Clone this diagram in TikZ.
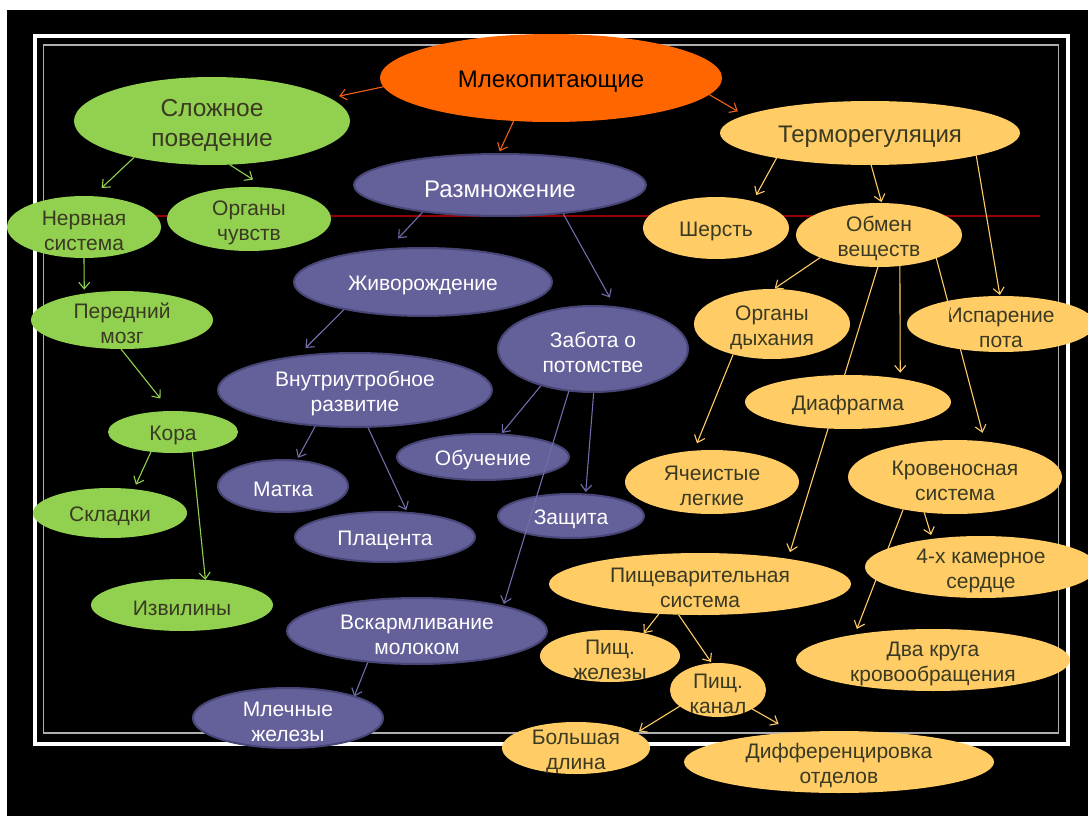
\documentclass[tikz,border=0pt]{standalone}
\usepackage{fontspec}
\setmainfont{Liberation Sans}
\usetikzlibrary{shapes.geometric,arrows.meta}
\definecolor{gfill}{RGB}{146,208,80}
\definecolor{yfill}{RGB}{255,204,102}
\definecolor{pfill}{RGB}{100,96,154}
\definecolor{pline}{RGB}{72,70,118}
\definecolor{ofill}{RGB}{255,102,0}
\definecolor{dtext}{RGB}{58,58,34}
\definecolor{parrow}{RGB}{112,110,170}
\definecolor{oarrow}{RGB}{240,96,20}
\definecolor{redl}{RGB}{150,0,0}
\definecolor{frameg}{RGB}{175,175,175}
\newcommand\tstrut{\rule{0pt}{1.08em}}
\pgfdeclarelayer{background}
\pgfdeclarelayer{edges}
\pgfsetlayers{background,edges,main}
\begin{document}
\begin{tikzpicture}[x=1pt,y=-1pt,
  el/.style 2 args={ellipse, minimum width=#1pt, minimum height=#2pt, inner xsep=-20pt, inner ysep=-12pt, outer sep=0pt, align=center, font=\fontsize{21}{25}\selectfont, execute at begin node={\rule{0pt}{1.02em}}},
  big/.style={font=\fontsize{24}{28}\selectfont},
  gn/.style={fill=gfill, text=dtext},
  yn/.style={fill=yfill, text=dtext},
  pn/.style={fill=pfill, draw=pline, line width=2pt, text=white},
  on/.style={fill=ofill, text=black},
  arr/.style={-{Straight Barb[length=6.5pt,width=11pt]}, line width=1.1pt},
  oarr/.style={arr, draw=oarrow},
  garr/.style={arr, draw=gfill},
  parr/.style={arr, draw=parrow},
  yarr/.style={arr, draw=yfill}
]
\useasboundingbox (0,0) rectangle (1088,816);
\begin{pgfonlayer}{background}
\fill[white] (0,0) rectangle (1088,816);
\fill[black] (7,10) rectangle (1088,816);
\draw[white, line width=4.5pt] (35,36) rectangle (1068,744);
\draw[frameg, line width=1.5pt] (43.5,45) rectangle (1058.5,733);
\draw[redl, line width=1.5pt] (100,216) -- (1040,216);
\end{pgfonlayer}

\node[el={342}{88}, on, big] (mlek) at (551,78) {Млекопитающие};
\node[el={276}{88}, gn, font=\fontsize{24.5}{30}\selectfont] (slozh) at (212,121) {\tstrut Сложное\\поведение};
\node[el={154}{62}, gn] (nerv) at (84,227) {\tstrut Нервная\\система};
\node[el={164}{64}, gn] (organy) at (249,219) {\tstrut Органы\\чувств};
\node[el={182}{58}, gn] (peredn) at (122,320) {\tstrut Передний\\мозг};
\node[el={130}{42}, gn] (kora) at (173,432) {Кора};
\node[el={154}{50}, gn] (skl) at (110,513) {Складки};
\node[el={182}{52}, gn] (izv) at (182,605) {Извилины};
\node[el={292}{62}, pn, big] (razm) at (500,185) {Размножение};
\node[el={258}{68}, pn] (zhivo) at (423,282) {Живорождение};
\node[el={274}{74}, pn] (vnutr) at (355,390) {\tstrut Внутриутробное\\развитие};
\node[el={130}{52}, pn] (matka) at (283,486) {Матка};
\node[el={180}{50}, pn] (plac) at (385,537) {Плацента};
\node[el={190}{86}, pn] (zabota) at (593,349) {\tstrut Забота о\\потомстве};
\node[el={172}{46}, pn] (obuch) at (483,457) {Обучение};
\node[el={146}{44}, pn] (zasch) at (571,516) {Защита};
\node[el={260}{66}, pn] (vskarm) at (417,631) {\tstrut Вскармливание\\молоком};
\node[el={190}{60}, pn] (mlech) at (288,718) {\tstrut Млечные\\железы};
\node[el={300}{64}, yn, big] (termo) at (870,133) {Терморегуляция};
\node[el={146}{62}, yn] (sherst) at (716,228) {Шерсть};
\node[el={166}{64}, yn] (obmen) at (879,235) {\tstrut Обмен\\веществ};
\node[el={156}{70}, yn] (dyh) at (772,324) {\tstrut Органы\\дыхания};
\node[el={188}{56}, yn] (ispar) at (1001,324) {\tstrut Испарение\\пота};
\node[el={206}{54}, yn] (diafr) at (848,402) {Диафрагма};
\node[el={174}{64}, yn] (yach) at (712,482) {\tstrut Ячеистые\\легкие};
\node[el={214}{74}, yn] (krov) at (955,477) {\tstrut Кровеносная\\система};
\node[el={302}{62}, yn] (pisch) at (700,584) {\tstrut Пищеварительная\\система};
\node[el={232}{62}, yn] (chet) at (981,567) {\tstrut 4-х камерное\\сердце};
\node[el={274}{62}, yn] (dvakr) at (933,660) {\tstrut Два круга\\кровообращения};
\node[el={140}{52}, yn] (pzhel) at (610,656) {\tstrut Пищ.\\железы};
\node[el={96}{54}, yn] (pkanal) at (718,690) {\tstrut Пищ.\\канал};
\node[el={148}{52}, yn] (bolsh) at (576,748) {\tstrut Большая\\длина};
\node[el={310}{62}, yn] (diff) at (839,762) {\tstrut Дифференцировка\\отделов};

\begin{pgfonlayer}{edges}
\draw[oarr, shorten >=9.5pt] (mlek.183) -- (slozh.11);
\draw[oarr, shorten >=3pt] (mlek.229) -- (razm.93);
\draw[oarr, shorten >=8pt] (mlek.354) -- (termo.172);
\draw[garr, shorten >=12pt] (slozh.205) -- (nerv.74);
\draw[garr, shorten >=15pt] (slozh.292) -- (organy.62);
\draw[garr, shorten >=4pt] (nerv.270) -- (peredn.145);
\draw[garr, shorten >=16pt] (peredn.268) -- (kora.97);
\draw[garr, shorten >=5pt] (kora.222) -- (skl.45);
\draw[garr] (kora.314) -- (izv.47);
\draw[parr, shorten >=15pt] (razm.199) -- (zhivo.137);
\draw[parr, shorten >=11pt] (razm.336) -- (zabota.62);
\draw[parr, shorten >=12pt] (zhivo.199) -- (vnutr.150);
\draw[parr, shorten >=3pt] (vnutr.222) -- (matka.62);
\draw[parr, shorten >=3pt] (vnutr.289) -- (plac.47);
\draw[parr, shorten >=2pt] (zabota.215) -- (obuch.52);
\draw[parr, shorten >=2.5pt] (zabota.271) -- (zasch.56);
\draw[parr] (vskarm.212) -- (mlech.18);
\draw[yarr, shorten >=7pt] (termo.195) -- (sherst.36);
\draw[yarr, shorten >=1pt] (termo.272) -- (obmen.85);
\draw[yarr, shorten >=1pt] (termo.348) -- (ispar.92);
\draw[yarr, shorten >=1pt] (obmen.201) -- (dyh.87);
\draw[yarr, shorten >=6pt] (obmen.304) -- (diafr.24);
\draw[yarr, shorten >=7pt] (obmen.268) -- (pisch.16);
\draw[yarr, shorten >=8pt] (dyh.218) -- (yach.120);
\draw[yarr, shorten >=4pt] (krov.229) -- (chet.150);
\draw[yarr, shorten >=6pt] (krov.212) -- (dvakr.162);
\draw[yarr] (pisch.216) -- (pzhel.34);
\draw[yarr, shorten >=1.5pt] (pisch.235) -- (pkanal.103);
\draw[yarr, shorten >=3pt] (pkanal.203) -- (bolsh.14);
\draw[yarr, shorten >=17pt] (pkanal.331) -- (diff.147);
\end{pgfonlayer}
\draw[parr, shorten >=2.5pt] (zabota.240) -- (vskarm.16);
\draw[yarr, shorten >=9pt] (obmen.338) -- (krov.50);
\end{tikzpicture}
\end{document}
